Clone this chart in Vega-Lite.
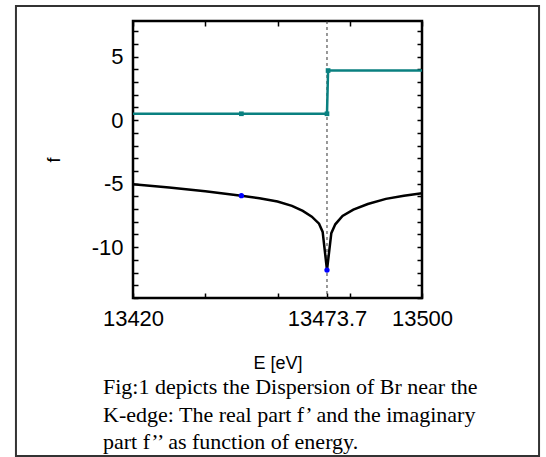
{
  "$schema": "https://vega.github.io/schema/vega-lite/v6.json",
  "width": 289,
  "height": 277,
  "autosize": {"type": "none"},
  "padding": {"left": 133, "top": 21, "right": 124, "bottom": 159},
  "background": "white",
  "datasets": {
    "fpp": [
      {"E": 13420, "f": 0.5},
      {"E": 13450, "f": 0.5},
      {"E": 13473.7, "f": 0.5},
      {"E": 13474.0, "f": 3.9},
      {"E": 13500, "f": 3.9}
    ],
    "fpp_points": [
      {"E": 13450, "f": 0.5},
      {"E": 13473.7, "f": 0.5},
      {"E": 13474.0, "f": 3.9}
    ],
    "fp": [
      {"E": 13420, "f": -5.05},
      {"E": 13430, "f": -5.3},
      {"E": 13440, "f": -5.6},
      {"E": 13450, "f": -5.95},
      {"E": 13455, "f": -6.15},
      {"E": 13460, "f": -6.4},
      {"E": 13464, "f": -6.75},
      {"E": 13467, "f": -7.15},
      {"E": 13469.5, "f": -7.6},
      {"E": 13471.5, "f": -8.15},
      {"E": 13472.5, "f": -8.8},
      {"E": 13473.7, "f": -11.8},
      {"E": 13474.9, "f": -8.9},
      {"E": 13476, "f": -8.2},
      {"E": 13478, "f": -7.55},
      {"E": 13481, "f": -7.05},
      {"E": 13485, "f": -6.6},
      {"E": 13490, "f": -6.2},
      {"E": 13495, "f": -5.95},
      {"E": 13500, "f": -5.75}
    ],
    "fp_points": [
      {"E": 13450, "f": -5.95},
      {"E": 13473.7, "f": -11.8}
    ]
  },
  "title": {
    "text": [
      "Fig:1 depicts the Dispersion of Br near the",
      "K-edge: The real part f’ and the imaginary",
      "part f’’ as function of energy."
    ],
    "orient": "bottom",
    "anchor": "start",
    "frame": "group",
    "dx": -30,
    "offset": -80,
    "font": "Liberation Serif",
    "fontSize": 22,
    "fontWeight": "normal",
    "color": "black",
    "lineHeight": 27.5
  },
  "layer": [
    {
      "data": {"values": [{}]},
      "mark": {"type": "rule", "color": "#333333", "strokeWidth": 1, "strokeDash": [3, 3]},
      "encoding": {
        "x": {"datum": 13473.7, "type": "quantitative", "axis": null}
      }
    },
    {
      "data": {"name": "fpp"},
      "mark": {"type": "line", "color": "#0a8080", "strokeWidth": 2.5},
      "encoding": {
        "x": {
          "field": "E", "type": "quantitative",
          "scale": {"domain": [13420, 13500], "nice": false, "zero": false},
          "axis": {
            "orient": "bottom",
            "title": "E [eV]",
            "values": [13420, 13440, 13460, 13473.7, 13480, 13500],
            "labelExpr": "indexof([13420, 13473.7, 13500], datum.value) >= 0 ? toString(datum.value) : ''",
            "labelFlush": false,
            "labelOverlap": false,
            "labelPadding": 15,
            "titlePadding": 25
          }
        },
        "y": {
          "field": "f", "type": "quantitative",
          "scale": {"domain": [-14, 7.8], "nice": false, "zero": false},
          "axis": {
            "orient": "left",
            "title": "f",
            "values": [-14, -13, -12, -11, -10, -9, -8, -7, -6, -5, -4, -3, -2, -1, 0, 1, 2, 3, 4, 5, 6, 7],
            "labelExpr": "datum.value % 5 === 0 ? toString(datum.value) : ''",
            "labelOverlap": false,
            "labelFlush": false,
            "labelPadding": 15,
            "titlePadding": 28
          }
        }
      }
    },
    {
      "data": {"name": "fp"},
      "mark": {"type": "line", "color": "black", "strokeWidth": 2.5},
      "encoding": {
        "x": {
          "field": "E", "type": "quantitative",
          "axis": {
            "orient": "top",
            "title": null,
            "labels": false,
            "values": [13420, 13440, 13460, 13480, 13500]
          }
        },
        "y": {
          "field": "f", "type": "quantitative",
          "axis": {
            "orient": "right",
            "title": null,
            "labels": false,
            "values": [-14, -13, -12, -11, -10, -9, -8, -7, -6, -5, -4, -3, -2, -1, 0, 1, 2, 3, 4, 5, 6, 7]
          }
        }
      }
    },
    {
      "data": {"name": "fpp_points"},
      "mark": {"type": "point", "shape": "square", "filled": true, "color": "#0a8080", "size": 22, "opacity": 1},
      "encoding": {
        "x": {"field": "E", "type": "quantitative", "axis": null},
        "y": {"field": "f", "type": "quantitative", "axis": null}
      }
    },
    {
      "data": {"name": "fp_points"},
      "mark": {"type": "point", "shape": "circle", "filled": true, "color": "#0000ff", "size": 28, "opacity": 1},
      "encoding": {
        "x": {"field": "E", "type": "quantitative", "axis": null},
        "y": {"field": "f", "type": "quantitative", "axis": null}
      }
    },
    {
      "data": {"values": [{}]},
      "mark": {"type": "rect", "fill": null, "fillOpacity": 0, "stroke": "#333333", "strokeWidth": 2, "clip": false},
      "encoding": {
        "x": {"datum": 13387.6, "type": "quantitative", "axis": null},
        "x2": {"datum": 13532.4},
        "y": {"datum": 8.98, "type": "quantitative", "axis": null},
        "y2": {"datum": -26.44}
      }
    }
  ],
  "resolve": {"axis": {"x": "independent", "y": "independent"}},
  "config": {
    "view": {"stroke": "black", "strokeWidth": 2.5},
    "axis": {
      "grid": false,
      "domain": false,
      "ticks": true,
      "tickColor": "black",
      "tickSize": -5,
      "tickWidth": 1.5,
      "labelFont": "Liberation Sans",
      "labelFontSize": 22,
      "labelColor": "black",
      "titleFont": "Liberation Sans",
      "titleFontSize": 18,
      "titleFontWeight": "normal",
      "titleColor": "black"
    }
  }
}
